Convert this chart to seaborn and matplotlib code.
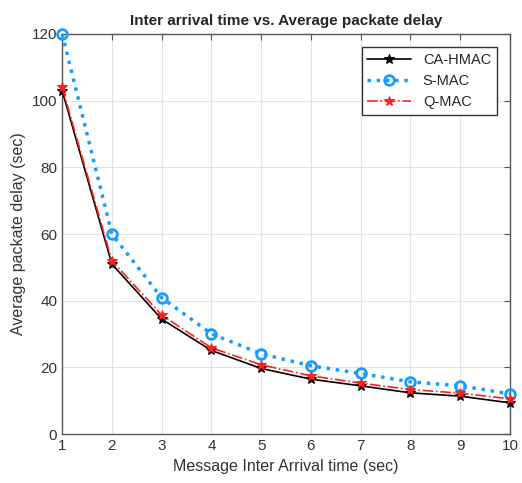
import numpy as np
import pandas as pd
import matplotlib
matplotlib.use("Agg")
import matplotlib.pyplot as plt
import seaborn as sns

# values
arrival = [1, 2, 3, 4, 5, 6, 7, 8, 9, 10]
ca_hmac = [103, 51, 34.5, 25.1, 19.7, 16.5, 14.5, 12.4, 11.4, 9.4]
s_mac = [120, 60, 40.9, 30.1, 24.1, 20.5, 18.2, 15.7, 14.5, 12.1]
q_mac = [104, 52, 35.7, 25.9, 20.8, 17.5, 15.3, 13.4, 12.3, 10.6]

sns.set_style("whitegrid")
plt.rcParams['font.family'] = ['Liberation Sans', 'DejaVu Sans']

fig = plt.figure(figsize=(5.22, 4.83), dpi=100)
ax = fig.add_axes([0.119, 0.101, 0.858, 0.829])

sns.lineplot(x=arrival, y=ca_hmac, ax=ax, color='black', linewidth=1.2,
             marker='*', markersize=7, markeredgecolor='black', label='CA-HMAC',
             clip_on=False, zorder=3)
sns.lineplot(x=arrival, y=s_mac, ax=ax, color='#1a9cff', linewidth=2.5,
             linestyle=':', marker='o', markersize=7, markerfacecolor='none',
             markeredgewidth=2, markeredgecolor='#1a9cff', label='S-MAC',
             clip_on=False, zorder=3)
sns.lineplot(x=arrival, y=q_mac, ax=ax, color='#ff2020', linewidth=1.2,
             linestyle='-.', marker='*', markersize=7, markeredgecolor='#ff2020',
             label='Q-MAC', clip_on=False, zorder=3)

ax.set_xlim(1, 10)
ax.set_ylim(0, 120)
ax.set_xticks(arrival)
ax.set_yticks(np.arange(0, 121, 20))
ax.grid(True, color='#e2e2e2', linewidth=0.8)
for s in ax.spines.values():
    s.set_color('#555555')
    s.set_linewidth(1.0)
ax.tick_params(direction='in', top=True, right=True, length=4, color='#555555',
               labelsize=11, labelcolor='#333333')

ax.set_title('Inter arrival time vs. Average packate delay', fontsize=11,
             fontweight='bold', pad=6)
ax.set_xlabel('Message Inter Arrival time (sec)', fontsize=11.5, color='#333333')
ax.set_ylabel('Average packate delay (sec)', fontsize=11.5, color='#333333')

leg = ax.legend(loc='upper right', fontsize=10.5, frameon=True, fancybox=False,
                edgecolor='#333333', framealpha=1, handlelength=3,
                borderaxespad=0.9)
leg.get_frame().set_linewidth(1.0)

fig.savefig('out.png', dpi=100)
